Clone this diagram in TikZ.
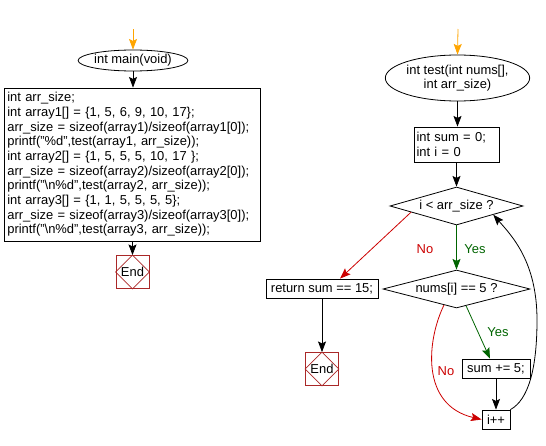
\documentclass[tikz,border=0pt]{standalone}
\usepackage{fontspec}
\setmainfont{Liberation Sans}
\usetikzlibrary{shapes.geometric,arrows.meta,calc}
\definecolor{endred}{RGB}{170,40,40}
\definecolor{noRed}{RGB}{204,0,0}
\definecolor{yesGreen}{RGB}{0,100,0}
\definecolor{startOrange}{RGB}{255,165,0}
\begin{document}
\begin{tikzpicture}[x=0.75pt,y=-0.75pt,
  font=\fontsize{9.7pt}{11pt}\selectfont,
  line width=0.6pt,
  arr/.style={-{Stealth[length=8pt,width=6pt,inset=1.5pt]}},
  box/.style={draw,rectangle,inner sep=0pt},
  oval/.style={draw,ellipse,inner sep=0pt},
  cond/.style={draw,diamond,inner sep=0pt},
  endbox/.style={draw=endred,rectangle,minimum width=24.75pt,minimum height=24.75pt,inner sep=0pt},
  lab/.style={inner sep=0pt}]
\useasboundingbox (0,0) rectangle (546,446);

% left flow
\coordinate (s1) at (133,29);
\node[oval,minimum width=69pt,minimum height=15.75pt] (main) at (133,60.5) {int main(void)};
\node[box,minimum width=192pt,minimum height=114.75pt,text width=187pt,align=left] (code) at (132,164.5)
{int arr\_size;\\
int array1[] = \{1, 5, 6, 9, 10, 17\};\\
arr\_size = sizeof(array1)/sizeof(array1[0]);\\
printf("\%d",test(array1, arr\_size));\\
int array2[] = \{1, 5, 5, 5, 10, 17 \};\\
arr\_size = sizeof(array2)/sizeof(array2[0]);\\
printf("\textbackslash n\%d",test(array2, arr\_size));\\
int array3[] = \{1, 1, 5, 5, 5, 5\};\\
arr\_size = sizeof(array3)/sizeof(array3[0]);\\
printf("\textbackslash n\%d",test(array3, arr\_size));};
\node[endbox] (end1) at (132.5,272) {End};
\draw[endred] (end1.north) -- (end1.east) -- (end1.south) -- (end1.west) -- cycle;

\draw[arr,startOrange] (s1) -- (main.north);
\draw[arr] (main.south) -- (code.north -| main.south);
\draw[arr] (code.south -| end1.north) -- (end1.north);

% right flow
\coordinate (s2) at (458,29);
\node[oval,minimum width=96.75pt,minimum height=34.5pt,align=center] (test) at (457.5,78) {int test(int nums[],\\int arr\_size)};
\node[box,minimum width=63.75pt,minimum height=26.25pt,text width=60pt,align=left] (init) at (456.5,144.5) {int sum = 0;\\int i = 0};
\node[cond,minimum width=99.75pt,minimum height=28.5pt,aspect=3.5] (d1) at (456.5,206) {i < arr\_size ?};
\node[cond,minimum width=110.25pt,minimum height=28.5pt,aspect=3.9] (d2) at (456.5,289) {nums[i] == 5 ?};
\node[box,minimum width=84pt,minimum height=14.25pt] (ret) at (322,288.5) {return sum == 15;};
\node[endbox] (end2) at (322,369) {End};
\draw[endred] (end2.north) -- (end2.east) -- (end2.south) -- (end2.west) -- cycle;
\node[box,minimum width=51pt,minimum height=14.25pt] (sum) at (496,368.5) {sum += 5;};
\node[box,minimum width=21pt,minimum height=14.25pt] (ipp) at (496,419.5) {i++};

\draw[arr,startOrange] (s2) -- (test.north);
\draw[arr] (test.south) -- (init.north -| test.south);
\draw[arr] (init.south -| d1.north) -- (d1.north);
\draw[arr,yesGreen] (d1.south) -- (d2.north);
\node[lab,text=yesGreen] at (475,249) {Yes};
\draw[arr,noRed] ($(d1.south)!0.68!(d1.west)$) -- ([xshift=13.5pt]ret.north);
\node[lab,text=noRed] at (425,249) {No};
\draw[arr] (ret.south) -- (end2.north);
\draw[arr,yesGreen] ($(d2.south)!0.13!(d2.east)$) -- ([xshift=-4.5pt]sum.north);
\node[lab,text=yesGreen] at (498,332) {Yes};
\draw[arr] (sum.south) -- (ipp.north);
\draw[arr,noRed] ($(d2.south)!0.17!(d2.west)$) .. controls (427,340) and (420,405) .. (ipp.west);
\node[lab,text=noRed] at (446,371) {No};
\draw[arr] (ipp.north east) .. controls (528,400) and (537,370) .. (537,320)
  .. controls (537,262) and (512,236) .. ($(d1.south)!0.55!(d1.east)$);
\end{tikzpicture}
\end{document}
